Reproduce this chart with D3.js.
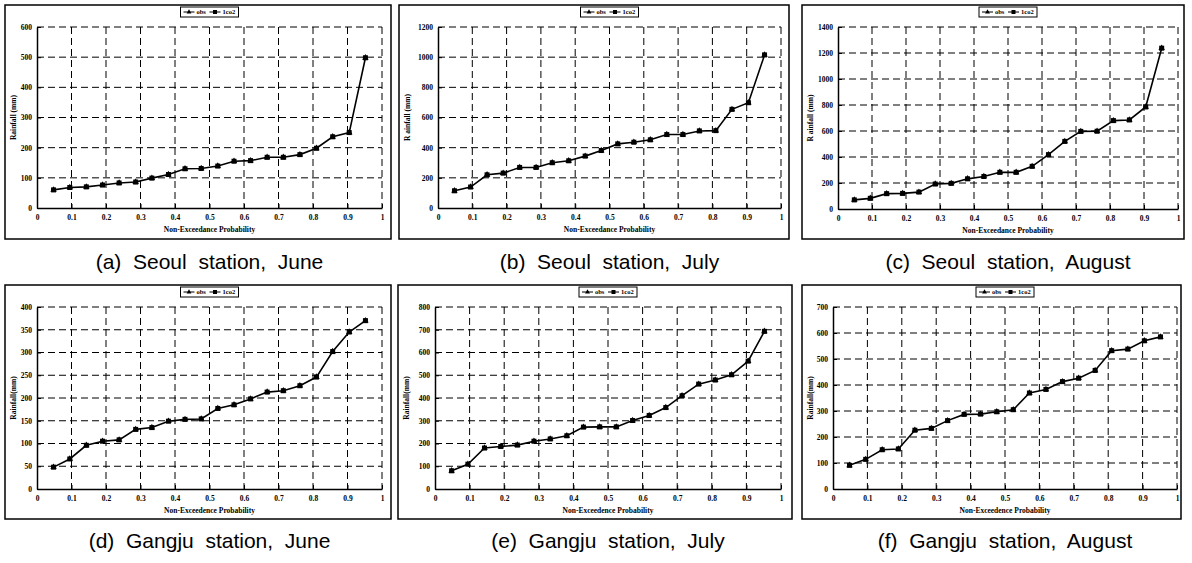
<!DOCTYPE html>
<html>
<head>
<meta charset="utf-8">
<script src="https://cdn.jsdelivr.net/npm/d3@7"></script>
<style>
  body { margin: 0; background: #fff; }
  svg { display: block; }
  .tick text { font-family: "Liberation Serif", "Times New Roman", serif; font-weight: bold; font-size: 7.5px; }
  .lbl { font-family: "Liberation Serif", "Times New Roman", serif; font-weight: bold; font-size: 7.5px; }
  .leg { font-family: "Liberation Serif", "Times New Roman", serif; font-weight: bold; font-size: 6.5px; }
  .cap { font-family: "Liberation Sans", Arial, sans-serif; font-size: 21px; white-space: pre; }
</style>
</head>
<body>
<svg id="chart" width="1192" height="563"></svg>
<script>
// Non-exceedance probability (plotting positions, n = 20)
var probs = [0.048, 0.095, 0.143, 0.190, 0.238, 0.286, 0.333, 0.381, 0.429, 0.476,
             0.524, 0.571, 0.619, 0.667, 0.714, 0.762, 0.810, 0.857, 0.905, 0.952];
var xTicks = [0, 0.1, 0.2, 0.3, 0.4, 0.5, 0.6, 0.7, 0.8, 0.9, 1];

// Rainfall (mm)
var seoulJune   = [60, 68, 70, 76, 83, 86, 99, 111, 130, 131, 139, 155, 157, 168, 168, 177, 198, 236, 250, 498];
var seoulJuly   = [114, 139, 220, 231, 269, 269, 300, 313, 344, 381, 425, 436, 452, 487, 487, 511, 513, 654, 698, 1015];
var seoulAug    = [70, 82, 118, 120, 130, 192, 197, 232, 250, 282, 282, 328, 418, 520, 597, 598, 680, 685, 785, 1237];
var gangjuJune  = [48, 66, 96, 105, 108, 131, 135, 149, 153, 154, 177, 185, 198, 213, 216, 227, 246, 302, 345, 370];
var gangjuJuly  = [80, 109, 180, 187, 193, 210, 220, 234, 272, 273, 273, 301, 323, 358, 410, 461, 479, 502, 562, 693];
var gangjuAug   = [91, 114, 151, 154, 226, 233, 263, 287, 288, 297, 305, 369, 383, 413, 426, 456, 532, 538, 570, 585];

var yMax    = [600, 1200, 1400, 400, 800, 700];
var yStep   = [100, 200, 200, 50, 100, 100];
var yTitles = ["Rainfall (mm)", "R ainfall (mm)", "R ainfall (mm)", "Rainfall(mm)", "Rainfall(mm)", "Rainfall(mm)"];
var xTitles = ["Non-Exceedance Probability", "Non-Exceedance Probability", "Non-Exceedance Probability",
               "Non-Exceedence Probability", "Non-Exceedence Probability", "Non-Exceedence Probability"];
var captions = ["(a)  Seoul  station,  June", "(b)  Seoul  station,  July", "(c)  Seoul  station,  August",
                "(d)  Gangju  station,  June", "(e)  Gangju  station,  July", "(f)  Gangju  station,  August"];
var series = [seoulJune, seoulJuly, seoulAug, gangjuJune, gangjuJuly, gangjuAug];

// layout: outer box and plot area [x0, y0, x1, y1]
var boxes = [[5, 5, 391, 239], [399, 5, 789, 239], [802, 5, 1184, 239],
             [5, 285, 391, 519], [398, 285, 792, 519], [802, 285, 1181, 519]];
var plots = [[37, 27, 382, 208], [438, 27, 781, 208], [838, 27, 1178, 209],
             [37, 307, 382, 489], [435, 307, 781, 489], [833, 307, 1177, 489]];
var capY = [262, 541];

var svg = d3.select("#chart");

function drawPanel(i) {
    var b = boxes[i], p = plots[i], vals = series[i];
    var x = d3.scaleLinear().domain([0, 1]).range([p[0], p[2]]);
    var y = d3.scaleLinear().domain([0, yMax[i]]).range([p[3], p[1]]);
    var yTicks = d3.range(0, yMax[i] + 1, yStep[i]);

    var g = svg.append("g");

    g.append("rect")
        .attr("x", b[0]).attr("y", b[1])
        .attr("width", b[2] - b[0]).attr("height", b[3] - b[1])
        .attr("fill", "none").attr("stroke", "#000").attr("stroke-width", 1.5);

    // dashed grid
    g.append("g").selectAll("line").data(yTicks.slice(1)).enter().append("line")
        .attr("x1", p[0]).attr("x2", p[2])
        .attr("y1", function(d) { return y(d); }).attr("y2", function(d) { return y(d); })
        .attr("stroke", "#000").attr("stroke-width", 1).attr("stroke-dasharray", "7,4");
    g.append("g").selectAll("line").data(xTicks.slice(1)).enter().append("line")
        .attr("y1", p[1]).attr("y2", p[3])
        .attr("x1", function(d) { return x(d); }).attr("x2", function(d) { return x(d); })
        .attr("stroke", "#000").attr("stroke-width", 1).attr("stroke-dasharray", "7,4");

    // axes
    var xAxis = d3.axisBottom(x).tickValues(xTicks).tickSize(0).tickPadding(7)
        .tickFormat(function(d) { return String(d); });
    var gx = g.append("g").attr("transform", "translate(0," + p[3] + ")").call(xAxis);
    gx.select(".domain").attr("stroke-width", 1.5);
    gx.selectAll(".tick").append("line").attr("y1", 0).attr("y2", -4).attr("stroke", "#000");

    var yAxis = d3.axisLeft(y).tickValues(yTicks).tickSize(0).tickPadding(5)
        .tickFormat(function(d) { return String(d); });
    var gy = g.append("g").attr("transform", "translate(" + p[0] + ",0)").call(yAxis);
    gy.select(".domain").attr("stroke-width", 1.5);
    gy.selectAll(".tick").append("line").attr("x1", 0).attr("x2", 4).attr("stroke", "#000");

    // axis titles
    var cx = (p[0] + p[2]) / 2;
    g.append("text").attr("class", "lbl")
        .attr("x", cx).attr("y", p[3] + 24).attr("text-anchor", "middle")
        .text(xTitles[i]);
    g.append("text").attr("class", "lbl")
        .attr("transform", "translate(" + (b[0] + 11) + "," + ((p[1] + p[3]) / 2) + ") rotate(-90)")
        .attr("text-anchor", "middle")
        .text(yTitles[i]);

    // lines: obs (triangles) under 1co2 (squares)
    var pts = vals.map(function(v, k) { return [probs[k], v]; });
    var line = d3.line().x(function(d) { return x(d[0]); }).y(function(d) { return y(d[1]); });
    g.append("path").datum(pts).attr("d", line)
        .attr("fill", "none").attr("stroke", "#000").attr("stroke-width", 1.6);
    g.append("g").selectAll("path").data(pts).enter().append("path")
        .attr("d", d3.symbol().type(d3.symbolTriangle).size(18))
        .attr("transform", function(d) { return "translate(" + x(d[0]) + "," + y(d[1]) + ")"; });
    g.append("g").selectAll("rect").data(pts).enter().append("rect")
        .attr("x", function(d) { return x(d[0]) - 2.5; })
        .attr("y", function(d) { return y(d[1]) - 2.5; })
        .attr("width", 5).attr("height", 5).attr("fill", "#000");

    // legend
    var lw = 58, lx = cx - lw / 2, ly = b[1] + 2;
    var lg = g.append("g");
    lg.append("rect").attr("x", lx).attr("y", ly).attr("width", lw).attr("height", 10)
        .attr("fill", "#fff").attr("stroke", "#000").attr("stroke-width", 1);
    lg.append("line").attr("x1", lx + 3).attr("x2", lx + 14).attr("y1", ly + 5).attr("y2", ly + 5).attr("stroke", "#000");
    lg.append("path").attr("d", d3.symbol().type(d3.symbolTriangle).size(10))
        .attr("transform", "translate(" + (lx + 8.5) + "," + (ly + 5) + ")");
    lg.append("text").attr("class", "leg").attr("x", lx + 16).attr("y", ly + 7.3).text("obs");
    lg.append("line").attr("x1", lx + 29).attr("x2", lx + 40).attr("y1", ly + 5).attr("y2", ly + 5).attr("stroke", "#000");
    lg.append("rect").attr("x", lx + 32.5).attr("y", ly + 3).attr("width", 4).attr("height", 4);
    lg.append("text").attr("class", "leg").attr("x", lx + 42).attr("y", ly + 7.3).text("1co2");

    // caption
    svg.append("text").attr("class", "cap")
        .attr("x", cx).attr("y", capY[Math.floor(i / 3)] + 7)
        .attr("text-anchor", "middle")
        .text(captions[i]);
}

for (var i = 0; i < 6; i++) {
    drawPanel(i);
}
</script>
</body>
</html>
